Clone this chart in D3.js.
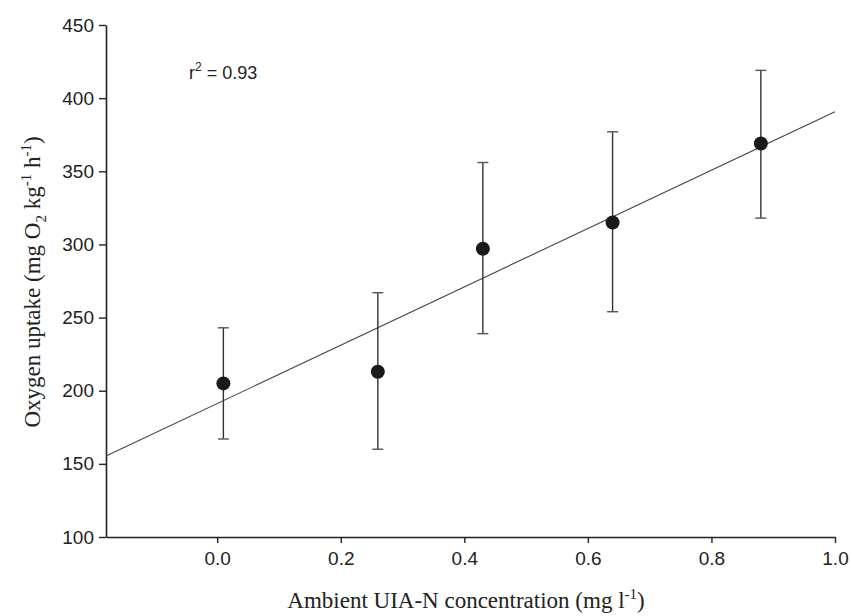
<!DOCTYPE html>
<html>
<head>
<meta charset="utf-8">
<script src="https://cdn.jsdelivr.net/npm/d3@7"></script>
<style>
  html, body { margin: 0; padding: 0; background: #fff; }
  svg { display: block; }
</style>
</head>
<body>
<svg id="chart" width="852" height="616"></svg>
<script>
// Data
const concentration = [0.01, 0.26, 0.43, 0.64, 0.88];
const uptakeMean    = [205, 213, 297, 315, 369];
const uptakeUpper   = [243, 267, 356, 377, 419];
const uptakeLower   = [167, 160, 239, 254, 318];
const fitIntercept = 191.2;
const fitSlope = 199.5;
const xTicks = [0.0, 0.2, 0.4, 0.6, 0.8, 1.0];
const yTicks = [100, 150, 200, 250, 300, 350, 400, 450];
const xDomain = [-0.18, 1.0];
const yDomain = [100, 450];

const svg = d3.select("#chart");
const x = d3.scaleLinear().domain(xDomain).range([106, 835]);
const y = d3.scaleLinear().domain(yDomain).range([537, 25]);
const ink = "#222";
const sans = "'Liberation Sans', Arial, Helvetica, sans-serif";
const serif = "'Liberation Serif', 'Times New Roman', serif";

// Axes
const xAxis = svg.append("g")
  .attr("transform", `translate(0,${y(100)})`)
  .call(d3.axisBottom(x).tickValues(xTicks).tickFormat(d3.format(".1f")).tickSizeOuter(0).tickSizeInner(6).tickPadding(9));
const yAxis = svg.append("g")
  .attr("transform", `translate(${x(xDomain[0])},0)`)
  .call(d3.axisLeft(y).tickValues(yTicks).tickFormat(d3.format("d")).tickSizeOuter(0).tickSizeInner(7).tickPadding(5));
[xAxis, yAxis].forEach(g => {
  g.select(".domain").attr("stroke", ink).attr("stroke-width", 1.6);
  g.selectAll(".tick line").attr("stroke", ink).attr("stroke-width", 1.4);
  g.selectAll(".tick text").attr("fill", ink).style("font-family", sans).style("font-size", "19px");
});

// Regression line
const fit = d => fitIntercept + fitSlope * d;
svg.append("line")
  .attr("x1", x(xDomain[0])).attr("y1", y(fit(xDomain[0])))
  .attr("x2", x(xDomain[1])).attr("y2", y(fit(xDomain[1])))
  .attr("stroke", "#444").attr("stroke-width", 1.1);

// Error bars
const pts = concentration.map((c, i) => ({c, m: uptakeMean[i], hi: uptakeUpper[i], lo: uptakeLower[i]}));
const eb = svg.append("g");
eb.selectAll("line.v").data(pts).join("line")
  .attr("x1", d => x(d.c)).attr("x2", d => x(d.c))
  .attr("y1", d => y(d.hi)).attr("y2", d => y(d.lo))
  .attr("stroke", "#333").attr("stroke-width", 1.4);
["hi", "lo"].forEach(k => {
  eb.selectAll("line.cap-" + k).data(pts).join("line")
    .attr("x1", d => x(d.c) - 5.5).attr("x2", d => x(d.c) + 5.5)
    .attr("y1", d => y(d[k])).attr("y2", d => y(d[k]))
    .attr("stroke", "#555").attr("stroke-width", 1.4);
});

// Points
svg.append("g").selectAll("circle").data(pts).join("circle")
  .attr("cx", d => x(d.c)).attr("cy", d => y(d.m)).attr("r", 7)
  .attr("fill", "#1a1a1a");

// r^2 annotation
const r2 = svg.append("text").attr("x", 189).attr("y", 79)
  .attr("fill", ink).style("font-family", sans).style("font-size", "18px");
r2.append("tspan").text("r");
r2.append("tspan").attr("dy", -8).style("font-size", "12px").text("2");
r2.append("tspan").attr("dy", 8).text(" = 0.93");

// X axis title
const xt = svg.append("text").attr("x", 466).attr("y", 608).attr("text-anchor", "middle")
  .attr("fill", ink).style("font-family", serif).style("font-size", "23px");
xt.append("tspan").text("Ambient UIA-N concentration (mg l");
xt.append("tspan").attr("dy", -9).style("font-size", "15px").text("-1");
xt.append("tspan").attr("dy", 9).text(")");

// Y axis title
const yt = svg.append("text").attr("transform", "translate(40,282) rotate(-90)")
  .attr("text-anchor", "middle")
  .attr("fill", ink).style("font-family", serif).style("font-size", "23px");
yt.append("tspan").text("Oxygen uptake (mg O");
yt.append("tspan").attr("dy", 6).style("font-size", "15px").text("2");
yt.append("tspan").attr("dy", -6).text(" kg");
yt.append("tspan").attr("dy", -9).style("font-size", "15px").text("-1");
yt.append("tspan").attr("dy", 9).text(" h");
yt.append("tspan").attr("dy", -9).style("font-size", "15px").text("-1");
yt.append("tspan").attr("dy", 9).text(")");
</script>
</body>
</html>
